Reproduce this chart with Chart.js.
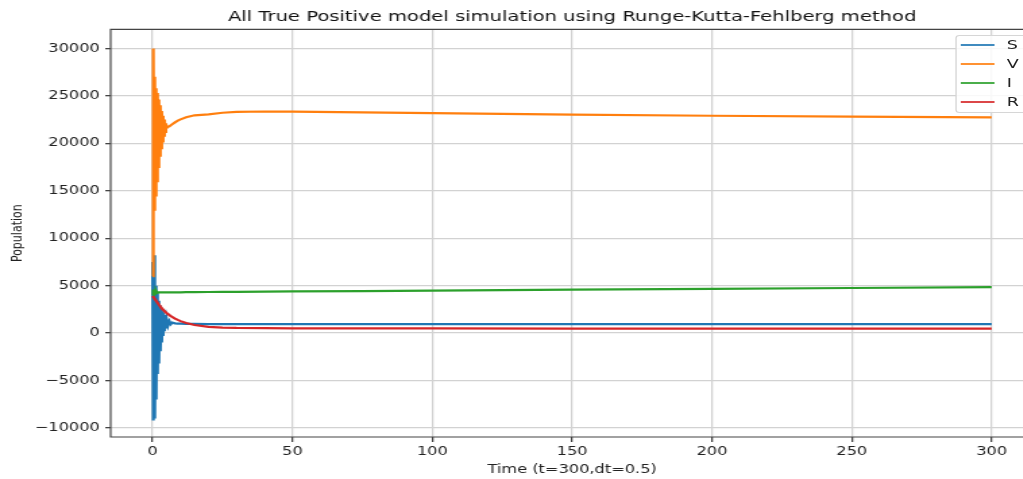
<!DOCTYPE html>
<html lang="en">
<head>
  <meta charset="UTF-8">
  <title>All True Positive model simulation</title>
  <script src="https://cdn.jsdelivr.net/npm/chart.js"></script>
  <style>
    html, body { margin: 0; padding: 0; background: #fff; overflow: hidden; }
    /* the reference image is stretched sideways (and soft), so the chart is drawn narrow and scaled */
    #wrap { position: relative; width: 767px; height: 479px; transform: scaleX(1.3494); transform-origin: 0 0; filter: blur(0.35px); }
    #legend { position: absolute; left: 708px; top: 35px; width: 52px; height: 76px;
              border: 1px solid #d6d6d6; border-radius: 3px; background: rgba(255,255,255,0.85);
              font-family: 'DejaVu Sans', sans-serif; font-size: 13px; color: #222; }
    #legend .row { position: absolute; left: 0; width: 52px; height: 18px; }
    #legend .swatch { position: absolute; left: 3px; top: 8px; width: 25px; height: 2px; opacity: 0.85; }
    #legend .lbl { position: absolute; left: 37px; top: 1px; line-height: 16px; }
  </style>
</head>
<body>
  <div id="wrap">
    <canvas id="grafico" width="767" height="479"></canvas>
    <div id="legend"></div>
  </div>

  <script>
    // time points: dense during the early oscillation, sparser afterwards
    const times = [0, 0.25, 0.5, 0.75, 1, 1.25, 1.5, 1.75, 2, 2.25, 2.5, 2.75, 3, 3.25, 3.5, 3.75, 4, 4.25, 4.5, 4.75, 5,
                   5.5, 6, 6.5, 7, 8, 9, 10, 12, 15, 20,
                   25, 30, 40, 50, 75, 100, 150, 200, 250, 300];

    const sValues = [7500, -9200, 8200, -9000, 5000, -7000, 4200, -4300, 3400, -3200, 2900, -1900, 2500, -1000, 2200, -300, 1900, 200, 1700, 500, 1500,
                     800, 1250, 950, 1100, 1030, 1000, 990, 970, 960, 950,
                     950, 950, 950, 950, 950, 950, 950, 950, 950, 950];
    const vValues = [6000, 30000, 13000, 27000, 14500, 25800, 16000, 25300, 17500, 24600, 18700, 24000, 19500, 23400, 20200, 22900, 20800, 22500, 21200, 22100, 21600,
                     21750, 21800, 21900, 22000, 22200, 22380, 22520, 22750, 22950, 23050,
                     23220, 23300, 23350, 23330, 23250, 23170, 23030, 22900, 22800, 22720];
    const iValues = [4000, 4600, 4100, 4500, 4200, 4400, 4250, 4300, 4300, 4300, 4300, 4300, 4300, 4300, 4300, 4300, 4300, 4300, 4300, 4300, 4300,
                     4300, 4300, 4300, 4300, 4300, 4300, 4300, 4310, 4320, 4330,
                     4340, 4350, 4370, 4390, 4430, 4480, 4570, 4660, 4750, 4840];
    const rValues = [3900, 3800, 3700, 3600, 3500, 3400, 3300, 3200, 3100, 3000, 2900, 2800, 2700, 2620, 2550, 2470, 2400, 2330, 2260, 2190, 2130,
                     2000, 1890, 1790, 1700, 1530, 1390, 1260, 1060, 850, 660,
                     580, 540, 515, 505, 495, 490, 480, 475, 470, 465];

    const seriesNames = ['S', 'V', 'I', 'R'];
    const seriesColors = ['#1f77b4', '#ff7f0e', '#2ca02c', '#d62728'];
    const seriesValues = [sValues, vValues, iValues, rValues];

    const xTicks = [0, 50, 100, 150, 200, 250, 300];
    const yTicks = [-10000, -5000, 0, 5000, 10000, 15000, 20000, 25000, 30000];

    const fonte = 'DejaVu Sans';

    // legend (matplotlib style, inside the axes, upper right)
    const legendEl = document.getElementById('legend');
    seriesNames.forEach((nome, i) => {
      const row = document.createElement('div');
      row.className = 'row';
      row.style.top = (i * 19) + 'px';
      row.innerHTML = `<span class="swatch" style="background:${seriesColors[i]}"></span><span class="lbl">${nome}</span>`;
      legendEl.appendChild(row);
    });

    // left, top and bottom spines (the right one is cut off in the picture)
    const moldura = {
      id: 'moldura',
      afterDatasetsDraw(chart) {
        const { ctx, chartArea: a } = chart;
        ctx.save();
        ctx.strokeStyle = '#444';
        ctx.lineWidth = 1.2;
        ctx.beginPath();
        ctx.moveTo(a.right, a.top);
        ctx.lineTo(a.left, a.top);
        ctx.lineTo(a.left, a.bottom);
        ctx.lineTo(a.right, a.bottom);
        ctx.stroke();
        ctx.restore();
      }
    };

    const datasets = seriesNames.map((nome, i) => ({
      label: nome,
      data: times.map((t, k) => ({ x: t, y: seriesValues[i][k] })),
      borderColor: seriesColors[i],
      backgroundColor: seriesColors[i],
      borderWidth: 2.2,
      pointRadius: 0,
      tension: 0,
      order: 3 - i
    }));

    const ctx = document.getElementById('grafico').getContext('2d');
    new Chart(ctx, {
      type: 'line',
      data: { datasets },
      options: {
        responsive: false,
        animation: false,
        devicePixelRatio: 1,
        layout: { padding: { left: 0, right: 1, top: 0, bottom: 0 } },
        plugins: {
          legend: { display: false },
          tooltip: { enabled: false },
          title: {
            display: true,
            fullSize: false,
            text: 'All True Positive model simulation using Runge-Kutta-Fehlberg method',
            color: '#111',
            font: { family: fonte, size: 14.5, weight: 'normal' },
            padding: { top: 9, bottom: 3 }
          }
        },
        scales: {
          x: {
            type: 'linear',
            min: -15,
            max: 315,
            afterBuildTicks: s => { s.ticks = xTicks.map(v => ({ value: v })); },
            afterFit: s => { s.height = 42; },
            ticks: { color: '#222', font: { family: fonte, size: 12 }, padding: 3, maxRotation: 0 },
            grid: { color: '#d2d2d2', lineWidth: 1.3, tickLength: 5, tickColor: '#444' },
            border: { display: false },
            title: {
              display: true,
              text: 'Time (t=300,dt=0.5)',
              color: '#222',
              font: { family: fonte, size: 12 },
              padding: { top: 0, bottom: 2 }
            }
          },
          y: {
            min: -10950,
            max: 32000,
            afterBuildTicks: s => { s.ticks = yTicks.map(v => ({ value: v })); },
            afterFit: s => { s.width = 82; },
            ticks: {
              color: '#222',
              font: { family: fonte, size: 12 },
              padding: 4,
              callback: v => (v < 0 ? '\u2212' + Math.abs(v) : String(v))
            },
            grid: { color: '#d2d2d2', lineWidth: 1.3, tickLength: 4, tickColor: '#444' },
            border: { display: false },
            title: {
              display: true,
              text: 'Population',
              color: '#222',
              font: { family: fonte, size: 11 },
              padding: { top: 7, bottom: 0 }
            }
          }
        }
      },
      plugins: [moldura]
    });
  </script>
</body>
</html>
